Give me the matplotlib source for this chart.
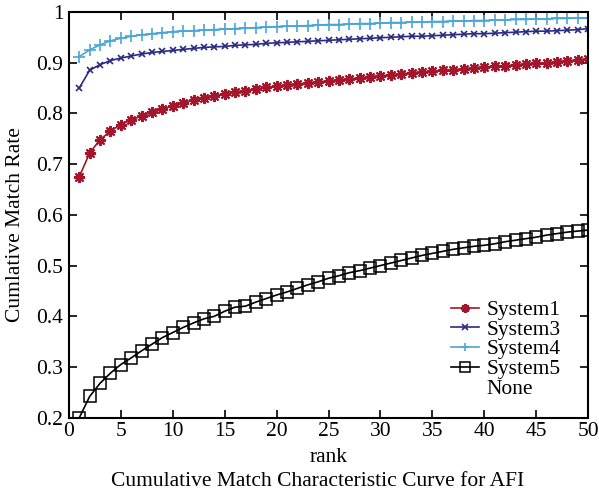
import matplotlib.pyplot as plt
from matplotlib.lines import Line2D

plt.rcParams['font.family'] = ['Liberation Serif', 'DejaVu Serif']

rank = list(range(1, 51))

system1 = [0.675, 0.722, 0.748, 0.765, 0.778, 0.787, 0.795, 0.802, 0.808, 0.815,
           0.821, 0.826, 0.831, 0.835, 0.838, 0.842, 0.845, 0.848, 0.851, 0.853,
           0.856, 0.858, 0.860, 0.862, 0.864, 0.866, 0.868, 0.870, 0.872, 0.874,
           0.876, 0.878, 0.880, 0.881, 0.883, 0.885, 0.886, 0.888, 0.889, 0.891,
           0.893, 0.894, 0.896, 0.897, 0.899, 0.900, 0.902, 0.904, 0.905, 0.907]

system3 = [0.850, 0.885, 0.896, 0.904, 0.909, 0.913, 0.917, 0.920, 0.922, 0.924,
           0.926, 0.928, 0.930, 0.931, 0.932, 0.934, 0.935, 0.936, 0.938, 0.939,
           0.940, 0.941, 0.942, 0.943, 0.944, 0.945, 0.946, 0.947, 0.948, 0.949,
           0.950, 0.951, 0.952, 0.952, 0.953, 0.954, 0.955, 0.956, 0.957, 0.957,
           0.958, 0.959, 0.960, 0.961, 0.962, 0.962, 0.963, 0.964, 0.965, 0.967]

system4 = [0.912, 0.925, 0.935, 0.943, 0.948, 0.952, 0.955, 0.957, 0.959, 0.961,
           0.962, 0.963, 0.964, 0.965, 0.966, 0.967, 0.968, 0.969, 0.970, 0.971,
           0.972, 0.972, 0.973, 0.974, 0.975, 0.975, 0.976, 0.977, 0.977, 0.978,
           0.979, 0.979, 0.980, 0.980, 0.981, 0.981, 0.982, 0.982, 0.983, 0.983,
           0.984, 0.984, 0.985, 0.985, 0.986, 0.986, 0.987, 0.987, 0.988, 0.988]

system5 = [0.200, 0.242, 0.268, 0.288, 0.305, 0.318, 0.332, 0.345, 0.358, 0.368,
           0.378, 0.387, 0.395, 0.400, 0.410, 0.418, 0.420, 0.428, 0.435, 0.442,
           0.448, 0.455, 0.462, 0.468, 0.475, 0.480, 0.486, 0.490, 0.495, 0.500,
           0.505, 0.510, 0.515, 0.520, 0.524, 0.528, 0.532, 0.535, 0.538, 0.540,
           0.543, 0.547, 0.550, 0.553, 0.556, 0.560, 0.563, 0.566, 0.568, 0.570]

fig = plt.figure(figsize=(5.99, 4.95), dpi=100)
ax = fig.add_axes([0.115, 0.156, 0.867, 0.82])

ax.plot(rank, system1, color='#a3162b', lw=1.2, marker=(8, 2, 0), ms=8,
        mew=1.5, label='System1')
ax.plot(rank, system3, color='#2a2a82', lw=1.2, marker='x', ms=5,
        mew=1.2, label='System3')
ax.plot(rank, system4, color='#4aa6d6', lw=1.2, marker='+', ms=8,
        mew=1.2, label='System4')
ax.plot(rank, system5, color='black', lw=1.2, marker='s', ms=8.5,
        mfc='none', mew=1.1, label='System5')

ax.set_xlim(0, 50)
ax.set_ylim(0.2, 1.0)
ax.set_xticks(range(0, 51, 5))
ax.set_yticks([0.2, 0.3, 0.4, 0.5, 0.6, 0.7, 0.8, 0.9, 1.0])
ax.set_yticklabels(['0.2', '0.3', '0.4', '0.5', '0.6', '0.7', '0.8', '0.9', '1'])
ax.tick_params(direction='in', length=6, width=1.2, top=True, right=True,
               labelsize=15.5)
ax.tick_params(axis='x', pad=3)
ax.tick_params(axis='y', pad=4)
for s in ax.spines.values():
    s.set_linewidth(1.5)

ax.set_xlabel('rank', fontsize=15.5)
ax.xaxis.set_label_coords(0.5, -0.075)
ax.set_ylabel('Cumlative Match Rate', fontsize=15.5, va='center')
ax.yaxis.set_label_coords(-0.103, 0.475)
fig.text(0.53, 0.028, 'Cumulative Match Characteristic Curve for AFI',
         ha='center', va='center', fontsize=15.5)

handles, labels = ax.get_legend_handles_labels()
handles.append(Line2D([], [], linestyle='none'))
labels.append('None')
ax.legend(handles, labels, loc='upper left', bbox_to_anchor=(0.736, 0.29),
          borderaxespad=0, borderpad=0, frameon=False, fontsize=15.5,
          handlelength=1.3, handletextpad=0.33, labelspacing=-0.02,
          markerscale=0.8)

fig.savefig('out.png', dpi=100)
